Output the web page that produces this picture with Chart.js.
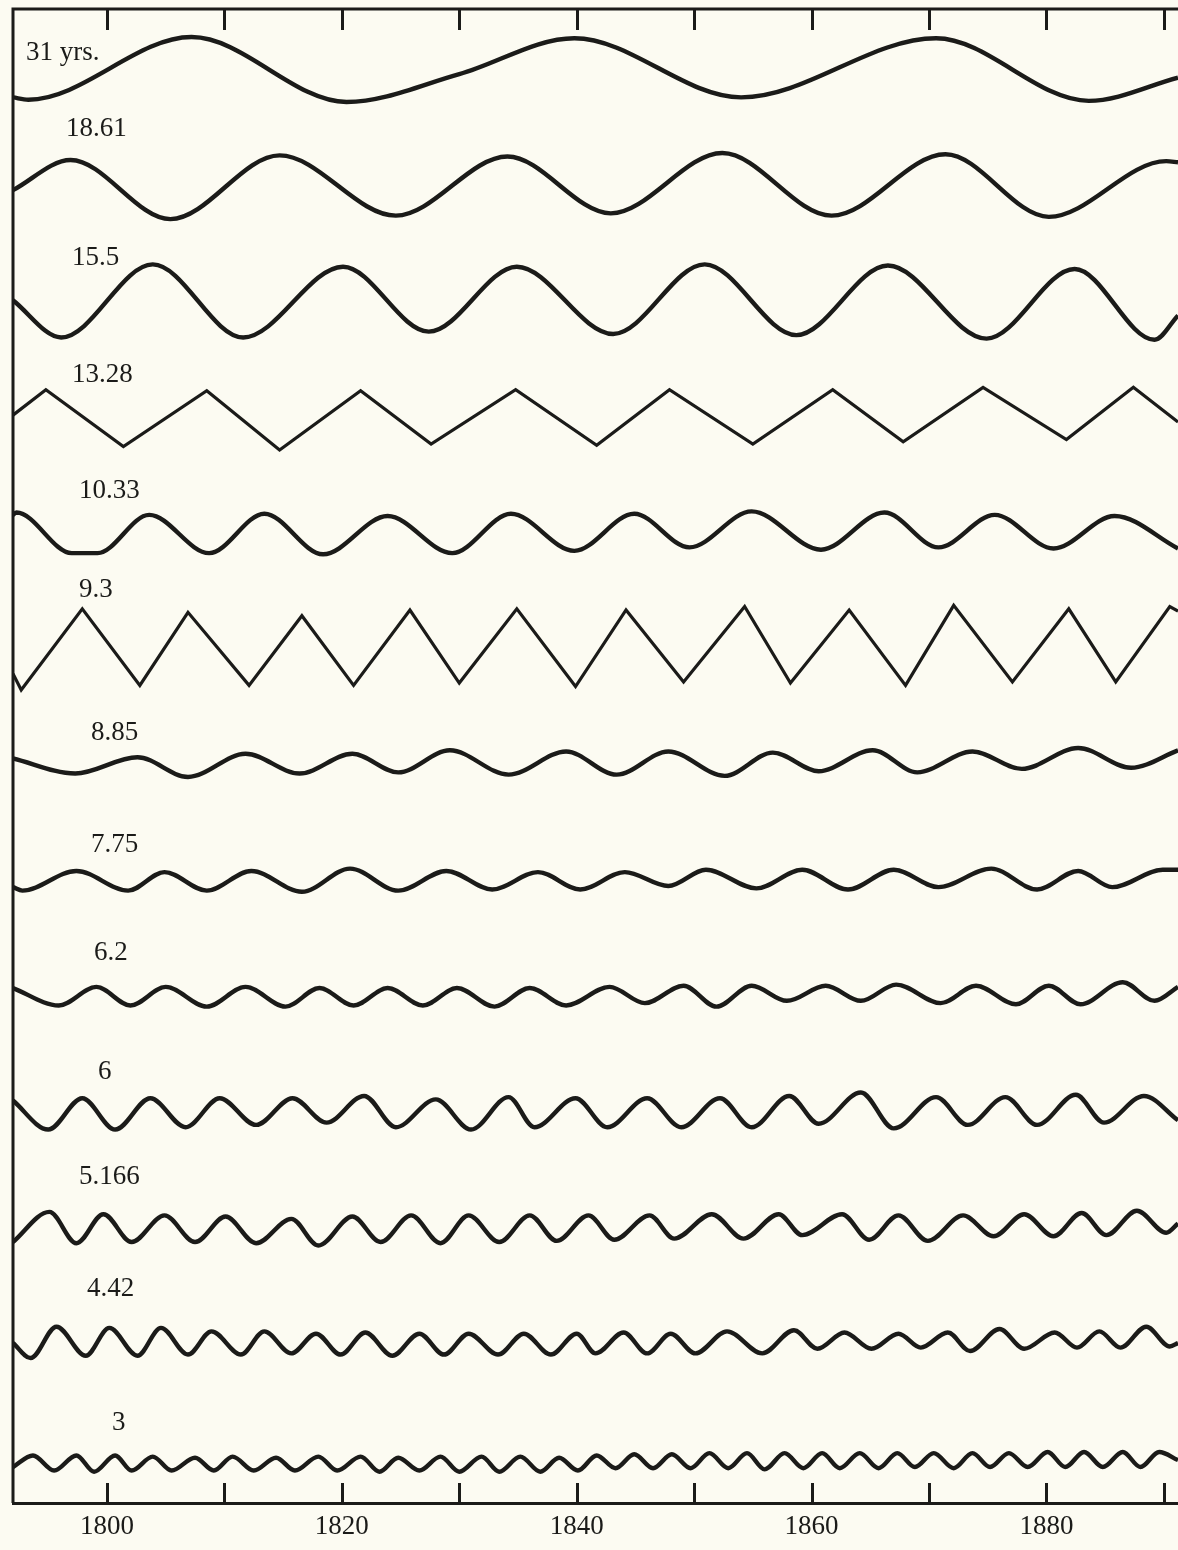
<!DOCTYPE html>
<html>
<head>
<meta charset="utf-8">
<title>Cycles</title>
<script src="https://cdn.jsdelivr.net/npm/chart.js"></script>
<style>
  html, body { margin: 0; padding: 0; background: #fcfbf2; }
  #wrap { width: 1178px; height: 1550px; }
</style>
</head>
<body>
<div id="wrap"><canvas id="cycles" width="1178" height="1550"></canvas></div>
<script>
// period of each curve, top to bottom
const periods = ['31 yrs.', '18.61', '15.5', '13.28', '10.33', '9.3', '8.85', '7.75', '6.2', '6', '5.166', '4.42', '3'];
// years that carry a label on the axis
const labelledYears = [1800, 1820, 1840, 1860, 1880];

// turning points: year, deviation (arbitrary units, up = positive)
const years31 = [1792.0, 1793.3, 1807.2, 1820.4, 1830.0, 1839.8, 1854.0, 1870.6, 1883.6, 1891.2];
const values31 = [-2.4, -2.6, 2.8, -2.8, -0.4, 2.7, -2.4, 2.7, -2.7, -0.7];

const years1861 = [1792.0, 1796.9, 1805.4, 1814.7, 1824.6, 1834.1, 1842.9, 1852.4, 1861.7, 1871.4, 1880.2, 1890.2, 1891.2];
const values1861 = [-0.4, 2.2, -2.9, 2.6, -2.6, 2.5, -2.4, 2.8, -2.6, 2.7, -2.7, 2.1, 2.0];

const years155 = [1792.0, 1796.1, 1803.9, 1811.6, 1820.1, 1827.4, 1834.9, 1843.1, 1850.9, 1858.7, 1866.5, 1874.9, 1882.4, 1889.2, 1891.2];
const values155 = [0.1, -3.1, 3.2, -3.1, 3.0, -2.6, 3.0, -2.8, 3.2, -2.9, 3.1, -3.2, 2.8, -3.3, -1.2];

const years1328 = [1792.0, 1794.8, 1801.4, 1808.5, 1814.7, 1821.6, 1827.6, 1834.8, 1841.7, 1847.9, 1855.0, 1861.8, 1867.8, 1874.6, 1881.7, 1887.4, 1891.2];
const values1328 = [0.2, 2.4, -2.5, 2.3, -2.8, 2.3, -2.3, 2.4, -2.4, 2.4, -2.3, 2.4, -2.1, 2.6, -1.9, 2.6, -0.4];

const years1033 = [1792.0, 1792.3, 1797.0, 1799.2, 1803.6, 1808.7, 1813.4, 1818.4, 1823.9, 1829.4, 1834.4, 1839.8, 1844.9, 1849.6, 1854.9, 1860.8, 1866.2, 1870.8, 1875.6, 1880.6, 1885.8, 1891.2];
const values1033 = [1.6, 1.8, -1.7, -1.7, 1.6, -1.7, 1.7, -1.8, 1.5, -1.7, 1.7, -1.5, 1.7, -1.2, 1.9, -1.4, 1.8, -1.2, 1.6, -1.3, 1.5, -1.3];

const years93 = [1792.0, 1792.7, 1797.9, 1802.8, 1806.9, 1812.1, 1816.6, 1821.0, 1825.8, 1830.0, 1834.9, 1839.9, 1844.2, 1849.1, 1854.3, 1858.2, 1863.2, 1868.0, 1872.1, 1877.1, 1881.9, 1885.9, 1890.5, 1891.2];
const values93 = [-2.1, -3.5, 3.5, -3.1, 3.2, -3.1, 2.9, -3.1, 3.4, -2.9, 3.5, -3.2, 3.4, -2.8, 3.7, -2.9, 3.4, -3.1, 3.8, -2.8, 3.5, -2.8, 3.7, 3.3];

const years885 = [1792.0, 1797.3, 1802.6, 1806.9, 1811.8, 1816.4, 1820.9, 1824.8, 1829.2, 1834.2, 1839.1, 1843.4, 1847.8, 1852.6, 1856.7, 1860.6, 1865.2, 1869.0, 1873.7, 1877.9, 1882.7, 1887.2, 1891.2];
const values885 = [0.6, -0.7, 0.7, -1.0, 1.0, -0.7, 1.0, -0.6, 1.3, -0.8, 1.2, -0.8, 1.2, -0.9, 1.1, -0.5, 1.3, -0.6, 1.2, -0.3, 1.5, -0.2, 1.3];

const years775 = [1792.0, 1792.8, 1797.4, 1801.8, 1804.9, 1808.5, 1812.3, 1816.6, 1820.7, 1824.8, 1828.9, 1832.8, 1836.7, 1840.3, 1844.1, 1847.8, 1851.0, 1855.3, 1859.2, 1863.1, 1867.0, 1870.8, 1875.3, 1879.2, 1882.7, 1885.6, 1889.9, 1891.2];
const values775 = [-0.5, -0.8, 0.9, -0.8, 0.8, -0.8, 0.9, -0.9, 1.1, -0.8, 0.9, -0.7, 0.8, -0.7, 0.8, -0.4, 1.0, -0.6, 1.0, -0.7, 1.0, -0.5, 1.1, -0.7, 0.9, -0.5, 1.0, 1.0];

const years62 = [1792.0, 1795.9, 1799.1, 1802.0, 1805.0, 1808.5, 1811.8, 1815.2, 1818.1, 1821.0, 1823.9, 1826.9, 1829.8, 1833.0, 1836.0, 1839.1, 1842.8, 1845.8, 1849.1, 1851.9, 1854.9, 1857.9, 1861.2, 1864.2, 1867.2, 1871.0, 1874.0, 1877.4, 1880.2, 1882.9, 1886.5, 1889.2, 1891.2];
const values62 = [0.8, -0.7, 0.9, -0.7, 0.9, -0.8, 0.9, -0.8, 0.8, -0.7, 0.8, -0.7, 0.8, -0.8, 0.8, -0.7, 0.9, -0.5, 1.0, -0.8, 1.0, -0.3, 1.0, -0.3, 1.1, -0.5, 1.0, -0.6, 1.0, -0.6, 1.3, -0.3, 0.9];

const years6 = [1792.0, 1795.0, 1797.9, 1800.7, 1803.7, 1806.7, 1809.6, 1812.7, 1815.8, 1818.7, 1821.9, 1824.6, 1828.0, 1831.0, 1834.2, 1836.4, 1839.9, 1842.6, 1846.0, 1848.9, 1852.2, 1854.9, 1858.1, 1860.6, 1864.2, 1867.0, 1870.6, 1873.3, 1876.5, 1879.2, 1882.5, 1884.9, 1888.3, 1891.2];
const values6 = [1.1, -1.4, 1.3, -1.4, 1.3, -1.2, 1.3, -1.0, 1.3, -0.8, 1.5, -1.2, 1.2, -1.4, 1.4, -1.2, 1.3, -1.2, 1.3, -1.2, 1.3, -1.2, 1.5, -0.9, 1.8, -1.3, 1.4, -1.0, 1.4, -1.0, 1.6, -0.8, 1.5, -0.6];

const years5166 = [1792.0, 1795.1, 1797.4, 1799.7, 1802.1, 1804.9, 1807.5, 1810.1, 1812.7, 1815.7, 1818.0, 1820.9, 1823.3, 1825.9, 1828.4, 1830.8, 1833.4, 1836.0, 1838.3, 1841.0, 1843.2, 1846.2, 1848.3, 1851.5, 1854.2, 1857.2, 1859.2, 1862.6, 1864.9, 1867.4, 1869.9, 1872.9, 1875.5, 1878.1, 1880.6, 1883.0, 1885.1, 1887.7, 1890.2, 1891.2];
const values5166 = [-1.1, 1.5, -1.2, 1.3, -1.1, 1.2, -1.1, 1.1, -1.2, 0.9, -1.4, 1.1, -1.1, 1.2, -1.2, 1.2, -1.1, 1.2, -1.0, 1.2, -0.9, 1.2, -0.8, 1.3, -0.8, 1.3, -0.5, 1.3, -0.9, 1.2, -1.0, 1.2, -0.6, 1.3, -0.6, 1.4, -0.5, 1.6, -0.3, 0.5];

const years442 = [1792.0, 1793.5, 1795.7, 1798.2, 1800.2, 1802.6, 1804.6, 1806.9, 1808.9, 1811.4, 1813.4, 1815.7, 1817.8, 1819.9, 1822.0, 1824.3, 1826.6, 1828.7, 1830.8, 1833.3, 1835.5, 1837.8, 1840.0, 1841.6, 1844.0, 1846.0, 1848.0, 1850.1, 1852.8, 1855.8, 1858.5, 1860.5, 1862.8, 1865.1, 1867.4, 1869.3, 1871.6, 1873.5, 1876.0, 1878.1, 1880.7, 1882.6, 1884.5, 1886.3, 1888.5, 1890.5, 1891.2];
const values442 = [0.2, -1.1, 1.6, -0.9, 1.5, -0.9, 1.5, -0.8, 1.2, -0.8, 1.2, -0.7, 1.0, -0.8, 1.1, -0.9, 1.0, -0.8, 1.0, -0.8, 1.0, -0.8, 1.0, -0.7, 1.1, -0.7, 1.0, -0.7, 1.2, -0.7, 1.3, -0.3, 1.1, -0.3, 1.0, -0.2, 1.1, -0.5, 1.4, -0.3, 1.1, -0.2, 1.2, -0.2, 1.6, -0.1, 0.2];

const years3 = [1792.0, 1793.7, 1795.5, 1797.4, 1798.9, 1800.7, 1802.1, 1803.9, 1805.5, 1807.5, 1809.1, 1810.7, 1812.5, 1814.4, 1816.0, 1818.0, 1819.6, 1821.6, 1823.2, 1824.8, 1826.6, 1828.4, 1830.0, 1831.9, 1833.4, 1835.2, 1836.9, 1838.5, 1840.1, 1841.7, 1843.3, 1844.9, 1846.5, 1848.1, 1849.7, 1851.3, 1852.9, 1854.5, 1856.0, 1857.7, 1859.3, 1860.9, 1862.4, 1864.1, 1865.7, 1867.3, 1868.8, 1870.4, 1872.1, 1873.7, 1875.2, 1876.8, 1878.4, 1880.1, 1881.6, 1883.2, 1884.8, 1886.5, 1888.0, 1889.6, 1891.2];
const values3 = [-0.5, 0.5, -0.8, 0.5, -0.9, 0.5, -0.8, 0.4, -0.8, 0.3, -0.8, 0.4, -0.8, 0.3, -0.8, 0.4, -0.8, 0.4, -0.9, 0.3, -0.8, 0.4, -0.9, 0.4, -0.9, 0.4, -0.9, 0.3, -0.8, 0.5, -0.6, 0.6, -0.6, 0.6, -0.6, 0.7, -0.6, 0.7, -0.7, 0.7, -0.6, 0.7, -0.6, 0.7, -0.6, 0.7, -0.5, 0.7, -0.6, 0.7, -0.5, 0.7, -0.5, 0.8, -0.5, 0.8, -0.5, 0.8, -0.5, 0.8, 0.1];

const waves = [
  [years31, values31], [years1861, values1861], [years155, values155], [years1328, values1328],
  [years1033, values1033], [years93, values93], [years885, values885], [years775, values775],
  [years62, values62], [years6, values6], [years5166, values5166], [years442, values442], [years3, values3]
];

// ---- layout / style ----
const INK = '#1b1b19';
const SERIF = "'Liberation Serif', 'Times New Roman', serif";
const ROW = 10;                          // vertical distance between curves, in value units
const straight = ['13.28', '9.3'];       // drawn as zigzags
const labelX = [26, 66, 72, 72, 79, 79, 91, 91, 94, 98, 79, 87, 112];
const labelDy = [-10, -50, -36, -35, -35, -52, -25, -29, -37, -34, -45, -49, -31];

const datasets = waves.map(([xs, ys], i) => {
  const zig = straight.includes(periods[i]);
  return {
    label: periods[i],
    data: xs.map((x, j) => ({ x: x, y: ys[j] - i * ROW })),
    borderColor: INK,
    borderWidth: zig ? 3.2 : 4.4,
    pointRadius: 0,
    fill: false,
    tension: 0,
    cubicInterpolationMode: zig ? 'default' : 'monotone',
    borderJoinStyle: zig ? 'miter' : 'round',
    borderCapStyle: 'butt'
  };
});

const framePlugin = {
  id: 'frame',
  afterDatasetsDraw(chart) {
    const { ctx, chartArea: a } = chart;
    const x = chart.scales.x, y = chart.scales.y;
    ctx.save();
    ctx.strokeStyle = INK;
    ctx.lineWidth = 3;
    ctx.lineCap = 'butt';
    ctx.beginPath();
    ctx.moveTo(a.left, a.bottom);
    ctx.lineTo(a.left, a.top);
    ctx.lineTo(chart.width, a.top);
    ctx.stroke();
    // inward tick marks, top and bottom
    x.ticks.forEach(t => {
      const px = Math.round(x.getPixelForValue(t.value)) + 0.5;
      ctx.beginPath();
      ctx.moveTo(px, a.top);
      ctx.lineTo(px, a.top + 21);
      ctx.moveTo(px, a.bottom);
      ctx.lineTo(px, a.bottom - 20);
      ctx.stroke();
    });
    // period labels
    ctx.fillStyle = INK;
    ctx.font = '27px ' + SERIF;
    ctx.textBaseline = 'alphabetic';
    periods.forEach((p, i) => {
      ctx.fillText(p, labelX[i], y.getPixelForValue(-i * ROW) + labelDy[i]);
    });
    ctx.restore();
  }
};

new Chart(document.getElementById('cycles'), {
  type: 'line',
  data: { datasets: datasets },
  options: {
    responsive: false,
    animation: false,
    devicePixelRatio: 1,
    layout: { padding: { left: 13, top: 9, right: 0, bottom: 0 } },
    plugins: { legend: { display: false }, tooltip: { enabled: false } },
    scales: {
      x: {
        type: 'linear',
        min: 1792,
        max: 1891.2,
        grid: { display: false, drawTicks: false },
        border: { display: true, color: INK, width: 3 },
        ticks: {
          stepSize: 10,
          includeBounds: false,
          autoSkip: false,
          maxRotation: 0,
          padding: 10,
          color: INK,
          font: { family: SERIF, size: 27, lineHeight: 1 },
          callback: v => labelledYears.includes(v) ? String(v) : ''
        }
      },
      y: { type: 'linear', display: false, min: -123.6, max: 5.22 }
    }
  },
  plugins: [framePlugin]
});
</script>
</body>
</html>
